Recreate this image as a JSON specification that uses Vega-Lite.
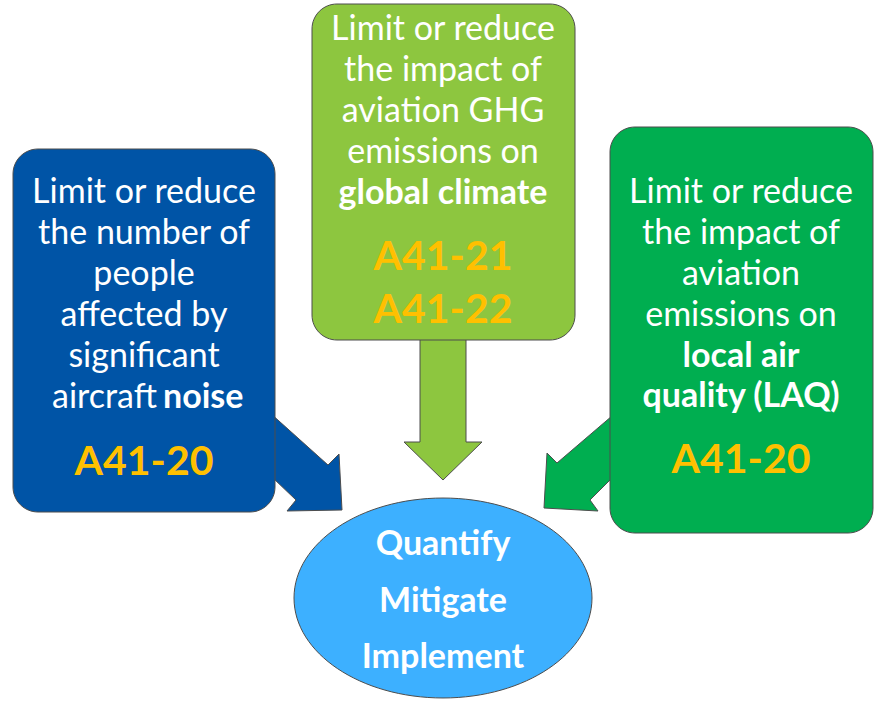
{
  "$schema": "https://vega.github.io/schema/vega-lite/v6.json",
  "width": 875,
  "height": 701,
  "padding": 0,
  "autosize": {"type": "none"},
  "background": "white",
  "config": {"view": {"stroke": null}, "axis": {"disable": true}},
  "datasets": {
    "boxes": [
      {"part": "noise", "x0": 13, "x1": 275, "y0": 149, "y1": 512},
      {"part": "climate", "x0": 312, "x1": 575, "y0": 4, "y1": 340},
      {"part": "laq", "x0": 610, "x1": 873, "y0": 127, "y1": 533}
    ],
    "arrows": [
      {"part": "climate", "i": 1, "x": 420, "y": 330},
      {"part": "climate", "i": 2, "x": 466, "y": 330},
      {"part": "climate", "i": 3, "x": 466, "y": 442},
      {"part": "climate", "i": 4, "x": 482, "y": 442},
      {"part": "climate", "i": 5, "x": 443, "y": 480},
      {"part": "climate", "i": 6, "x": 404, "y": 442},
      {"part": "climate", "i": 7, "x": 420, "y": 442},
      {"part": "noise", "i": 1, "x": 250, "y": 395},
      {"part": "noise", "i": 2, "x": 328, "y": 465},
      {"part": "noise", "i": 3, "x": 339, "y": 454},
      {"part": "noise", "i": 4, "x": 342, "y": 510},
      {"part": "noise", "i": 5, "x": 287, "y": 511},
      {"part": "noise", "i": 6, "x": 296, "y": 500},
      {"part": "noise", "i": 7, "x": 250, "y": 456},
      {"part": "laq", "i": 1, "x": 633, "y": 398},
      {"part": "laq", "i": 2, "x": 557, "y": 463},
      {"part": "laq", "i": 3, "x": 547, "y": 453},
      {"part": "laq", "i": 4, "x": 544, "y": 508},
      {"part": "laq", "i": 5, "x": 598, "y": 511},
      {"part": "laq", "i": 6, "x": 590, "y": 500},
      {"part": "laq", "i": 7, "x": 633, "y": 457}
    ],
    "core": [{"part": "core", "x": 443, "y": 598}],
    "texts": [
      {"role": "body", "x": 144, "y": 203, "text": "Limit or reduce"},
      {"role": "body", "x": 144, "y": 244, "text": "the number of"},
      {"role": "body", "x": 144, "y": 285, "text": "people"},
      {"role": "body", "x": 144, "y": 326, "text": "affected by"},
      {"role": "body", "x": 144, "y": 367, "text": "significant"},
      {"role": "bodyRight", "x": 157, "y": 408, "text": "aircraft"},
      {"role": "strongLeft", "x": 163, "y": 408, "text": "noise"},
      {"role": "code", "x": 144, "y": 475, "text": "A41-20"},
      {"role": "body", "x": 443, "y": 40, "text": "Limit or reduce"},
      {"role": "body", "x": 443, "y": 81, "text": "the impact of"},
      {"role": "body", "x": 443, "y": 122, "text": "aviation GHG"},
      {"role": "body", "x": 443, "y": 163, "text": "emissions on"},
      {"role": "strong", "x": 443, "y": 204, "text": "global climate"},
      {"role": "code", "x": 443, "y": 270, "text": "A41-21"},
      {"role": "code", "x": 443, "y": 323, "text": "A41-22"},
      {"role": "body", "x": 741, "y": 203, "text": "Limit or reduce"},
      {"role": "body", "x": 741, "y": 244, "text": "the impact of"},
      {"role": "body", "x": 741, "y": 285, "text": "aviation"},
      {"role": "body", "x": 741, "y": 326, "text": "emissions on"},
      {"role": "strong", "x": 741, "y": 367, "text": "local air"},
      {"role": "strong", "x": 741, "y": 407, "text": "quality (LAQ)"},
      {"role": "code", "x": 741, "y": 473, "text": "A41-20"},
      {"role": "core", "x": 443, "y": 555, "text": "Quantify"},
      {"role": "core", "x": 443, "y": 612, "text": "Mitigate"},
      {"role": "core", "x": 443, "y": 668, "text": "Implement"}
    ]
  },
  "layer": [
    {
      "data": {"name": "arrows"},
      "mark": {"type": "line", "interpolate": "linear-closed", "stroke": "#4d4d4d", "strokeWidth": 1},
      "encoding": {
        "x": {"field": "x", "type": "quantitative", "axis": null, "scale": {"domain": [0, 875], "nice": false, "zero": false}},
        "y": {"field": "y", "type": "quantitative", "axis": null, "scale": {"domain": [0, 701], "reverse": true, "nice": false, "zero": false}},
        "detail": {"field": "part", "type": "nominal"},
        "order": {"field": "i", "type": "quantitative"},
        "fill": {"field": "part", "type": "nominal", "legend": null, "scale": {"domain": ["noise", "climate", "laq", "core"], "range": ["#0054A6", "#8DC63F", "#00AE50", "#3DB0FF"]}}
      }
    },
    {
      "data": {"name": "boxes"},
      "mark": {"type": "rect", "cornerRadius": 25, "stroke": "#4d4d4d", "strokeWidth": 1},
      "encoding": {
        "x": {"field": "x0", "type": "quantitative", "axis": null, "scale": {"domain": [0, 875], "nice": false, "zero": false}},
        "x2": {"field": "x1"},
        "y": {"field": "y0", "type": "quantitative", "axis": null, "scale": {"domain": [0, 701], "reverse": true, "nice": false, "zero": false}},
        "y2": {"field": "y1"},
        "fill": {"field": "part", "type": "nominal", "legend": null}
      }
    },
    {
      "data": {"name": "core"},
      "mark": {"type": "point", "filled": true, "opacity": 1, "shape": "M-1,0A1,0.671 0 1,1 1,0A1,0.671 0 1,1 -1,0Z", "size": 88804, "stroke": "#4d4d4d", "strokeWidth": 1},
      "encoding": {
        "x": {"field": "x", "type": "quantitative", "axis": null},
        "y": {"field": "y", "type": "quantitative", "axis": null},
        "fill": {"field": "part", "type": "nominal", "legend": null}
      }
    },
    {
      "data": {"name": "texts"},
      "transform": [{"filter": "datum.role === 'body'"}],
      "mark": {"type": "text", "font": "Lato", "fontSize": 34, "fill": "white", "align": "center", "baseline": "alphabetic"},
      "encoding": {
        "x": {"field": "x", "type": "quantitative", "axis": null},
        "y": {"field": "y", "type": "quantitative", "axis": null},
        "text": {"field": "text"}
      }
    },
    {
      "data": {"name": "texts"},
      "transform": [{"filter": "datum.role === 'bodyRight'"}],
      "mark": {"type": "text", "font": "Lato", "fontSize": 34, "fill": "white", "align": "right", "baseline": "alphabetic"},
      "encoding": {
        "x": {"field": "x", "type": "quantitative", "axis": null},
        "y": {"field": "y", "type": "quantitative", "axis": null},
        "text": {"field": "text"}
      }
    },
    {
      "data": {"name": "texts"},
      "transform": [{"filter": "datum.role === 'strong'"}],
      "mark": {"type": "text", "font": "Lato", "fontSize": 34, "fontWeight": "bold", "fill": "white", "align": "center", "baseline": "alphabetic"},
      "encoding": {
        "x": {"field": "x", "type": "quantitative", "axis": null},
        "y": {"field": "y", "type": "quantitative", "axis": null},
        "text": {"field": "text"}
      }
    },
    {
      "data": {"name": "texts"},
      "transform": [{"filter": "datum.role === 'strongLeft'"}],
      "mark": {"type": "text", "font": "Lato", "fontSize": 34, "fontWeight": "bold", "fill": "white", "align": "left", "baseline": "alphabetic"},
      "encoding": {
        "x": {"field": "x", "type": "quantitative", "axis": null},
        "y": {"field": "y", "type": "quantitative", "axis": null},
        "text": {"field": "text"}
      }
    },
    {
      "data": {"name": "texts"},
      "transform": [{"filter": "datum.role === 'code'"}],
      "mark": {"type": "text", "font": "Lato", "fontSize": 41, "fontWeight": "bold", "fill": "#FFC000", "align": "center", "baseline": "alphabetic"},
      "encoding": {
        "x": {"field": "x", "type": "quantitative", "axis": null},
        "y": {"field": "y", "type": "quantitative", "axis": null},
        "text": {"field": "text"}
      }
    },
    {
      "data": {"name": "texts"},
      "transform": [{"filter": "datum.role === 'core'"}],
      "mark": {"type": "text", "font": "Lato", "fontSize": 34, "fontWeight": "bold", "fill": "white", "align": "center", "baseline": "alphabetic"},
      "encoding": {
        "x": {"field": "x", "type": "quantitative", "axis": null},
        "y": {"field": "y", "type": "quantitative", "axis": null},
        "text": {"field": "text"}
      }
    }
  ]
}
